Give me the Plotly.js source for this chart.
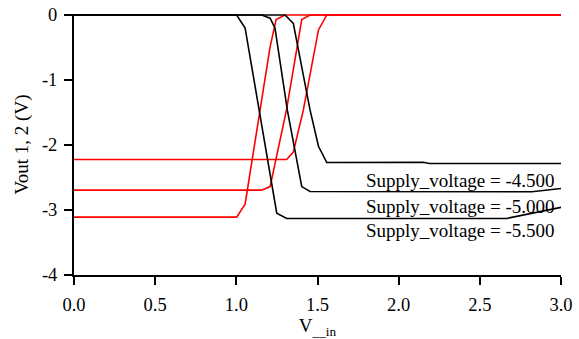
<!DOCTYPE html>
<html>
<head>
<meta charset="utf-8">
<script src="https://cdn.plot.ly/plotly-3.0.1.min.js"></script>
<style>html,body{margin:0;padding:0;background:#fff;}#chart{width:579px;height:339px;}</style>
</head>
<body>
<div id="chart"></div>
<script>
// Vout1 (black, falling) for each supply voltage
const vinB45 = [0, 1.30, 1.351, 1.454, 1.506, 1.557, 2.15, 2.19, 3.0];
const voutB45 = [0, 0, -0.13, -1.46, -2.02, -2.27, -2.265, -2.285, -2.285];
const vinB50 = [0, 1.156, 1.208, 1.238, 1.314, 1.403, 1.454, 2.82, 3.0];
const voutB50 = [0, 0, -0.05, -0.2, -1.46, -2.64, -2.715, -2.72, -2.67];
const vinB55 = [0, 1.002, 1.054, 1.142, 1.249, 1.31, 2.666, 3.0];
const voutB55 = [0, 0, -0.2, -1.46, -3.05, -3.13, -3.13, -2.96];
// Vout2 (red, rising) for each supply voltage
const vinR45 = [0, 1.31, 1.351, 1.413, 1.506, 1.557, 3.0];
const voutR45 = [-2.224, -2.224, -2.11, -1.46, -0.23, 0, 0];
const vinR50 = [0, 1.156, 1.208, 1.309, 1.403, 1.454, 3.0];
const voutR50 = [-2.695, -2.695, -2.64, -1.46, -0.07, 0, 0];
const vinR55 = [0, 1.002, 1.054, 1.146, 1.208, 1.245, 1.30, 3.0];
const voutR55 = [-3.11, -3.11, -2.91, -1.46, -0.49, -0.07, 0, 0];

const labels = ["Supply_voltage = -4.500", "Supply_voltage = -5.000", "Supply_voltage = -5.500"];
const labelY = [-2.54, -2.94, -3.32];
const xTicks = [0, 0.5, 1.0, 1.5, 2.0, 2.5, 3.0];
const xTickText = ["0.0", "0.5", "1.0", "1.5", "2.0", "2.5", "3.0"];
const yTicks = [0, -1, -2, -3, -4];
const yTickText = ["0", "-1", "-2", "-3", "-4"];

const FONT = "Liberation Serif, Times New Roman, serif";
const lw = 1.6;
function tr(x, y, c) {
  return {x: x, y: y, type: "scatter", mode: "lines", line: {color: c, width: lw}, hoverinfo: "skip"};
}
const data = [
  tr(vinR45, voutR45, "#ff0000"),
  tr(vinR50, voutR50, "#ff0000"),
  tr(vinR55, voutR55, "#ff0000"),
  tr(vinB45, voutB45, "#000000"),
  tr(vinB50, voutB50, "#000000"),
  tr(vinB55, voutB55, "#000000")
];
const annotations = labels.map((t, i) => ({
  text: t, x: 2.975, y: labelY[i], xref: "x", yref: "y", xanchor: "right", yanchor: "middle",
  showarrow: false, font: {family: FONT, size: 19, color: "#000"}
}));
const layout = {
  width: 579, height: 339,
  margin: {l: 74, r: 18, t: 14, b: 64},
  paper_bgcolor: "#fff", plot_bgcolor: "#fff",
  showlegend: false,
  font: {family: FONT, size: 18, color: "#000"},
  xaxis: {
    range: [0, 3], tickvals: xTicks, ticktext: xTickText,
    showline: true, linecolor: "#000", linewidth: 2, ticks: "outside", ticklen: 8, tickwidth: 2, tickcolor: "#000",
    showgrid: false, zeroline: false, automargin: false, ticklabelstandoff: 4,
    tickfont: {family: FONT, size: 18.5},
    title: {text: "V<sub>__in</sub>", font: {family: FONT, size: 19}, standoff: 10}
  },
  yaxis: {
    range: [-4, 0.015], tickvals: yTicks, ticktext: yTickText,
    showline: true, linecolor: "#000", linewidth: 2, ticks: "outside", ticklen: 8, tickwidth: 2, tickcolor: "#000",
    showgrid: false, zeroline: false, automargin: false, ticklabelstandoff: 3,
    tickfont: {family: FONT, size: 18.5},
    title: {text: "Vout 1, 2 (V)", font: {family: FONT, size: 19}, standoff: 8}
  },
  annotations: annotations
};
Plotly.newPlot("chart", data, layout, {displayModeBar: false, staticPlot: true});
</script>
</body>
</html>
